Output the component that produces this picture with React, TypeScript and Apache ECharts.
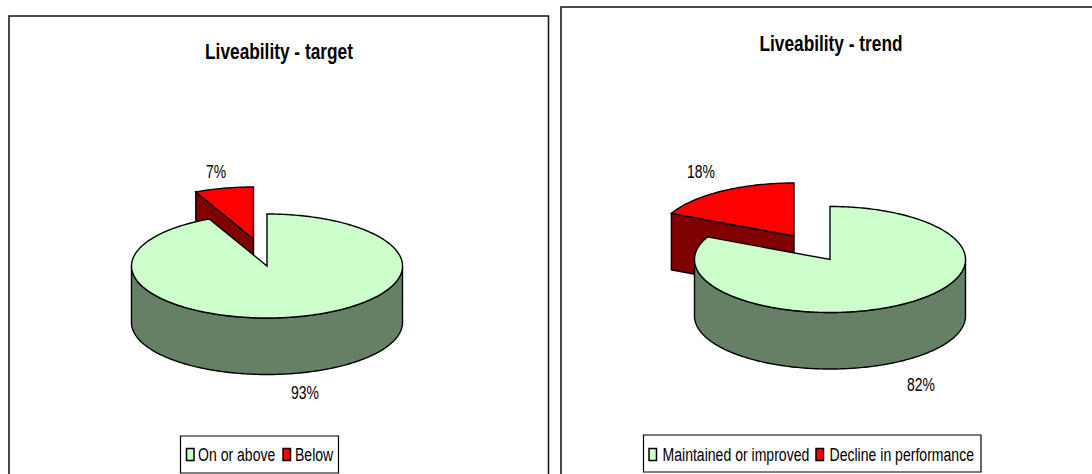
import React, { useEffect, useRef } from "react";
import * as echarts from "echarts";

// Share of indicators per category, in percent.
const targetCategories = ["On or above", "Below"];
const targetValues = [93, 7];
const trendCategories = ["Maintained or improved", "Decline in performance"];
const trendValues = [82, 18];

const FONT = "Liberation Sans";
const topColors = ["#CCFFCC", "#FF0000"];
const wallColors = ["#668066", "#800000"];
const OUTLINE = "#000000";
const EDGE = 1.4;

type Pie = {
  cx: number;
  cy: number;
  rx: number;
  ry: number;
  depth: number;
  pull: [number, number];
  labels: [number, number][];
};

const targetPie: Pie = {
  cx: 267, cy: 266, rx: 135.5, ry: 52, depth: 56.5,
  pull: [-13.5, -27],
  labels: [[305, 392], [216, 171]],
};
const trendPie: Pie = {
  cx: 830, cy: 259.5, rx: 135.5, ry: 53, depth: 56.5,
  pull: [-36, -23.5],
  labels: [[921, 384], [701, 171]],
};

// Point on the pie's rim; degrees run clockwise from twelve o'clock.
function rim(p: Pie, deg: number, ox: number, oy: number): number[] {
  const a = (deg * Math.PI) / 180;
  return [p.cx + ox + p.rx * Math.sin(a), p.cy + oy - p.ry * Math.cos(a)];
}

function arcPoints(p: Pie, from: number, to: number, ox: number, oy: number) {
  const pts: number[][] = [];
  const steps = Math.max(2, Math.ceil(Math.abs(to - from)));
  for (let i = 0; i <= steps; i++) pts.push(rim(p, from + ((to - from) * i) / steps, ox, oy));
  return pts;
}

// One slice: the outer wall and cut face that show from above, then the top.
function sliceRenderer(p: Pie, values: number[], index: number) {
  const total = values.reduce((s, v) => s + v, 0);
  const start = (values.slice(0, index).reduce((s, v) => s + v, 0) / total) * 360;
  const end = start + (values[index] / total) * 360;
  const [ox, oy] = index === 0 ? [0, 0] : p.pull;
  const apex = [p.cx + ox, p.cy + oy];
  const drop = (pts: number[][]) => pts.map(([x, y]) => [x, y + p.depth]);
  const line = { fill: wallColors[index], stroke: OUTLINE, lineWidth: EDGE };

  return () => {
    const children: any[] = [];
    // Cut face on the closing edge looks towards the viewer for the pulled slice.
    if (index === 1) {
      const edge = rim(p, start, ox, oy);
      children.push({
        type: "polygon",
        shape: { points: [edge, apex, [apex[0], apex[1] + p.depth], [edge[0], edge[1] + p.depth]] },
        style: line,
      });
    }
    // Outer wall only on the near half of the rim (90° to 270°).
    const wallFrom = Math.max(start, 90);
    const wallTo = Math.min(end, 270);
    if (wallTo > wallFrom) {
      const arc = arcPoints(p, wallFrom, wallTo, ox, oy);
      children.push({
        type: "polygon",
        shape: { points: [...arc, ...drop(arc).reverse()] },
        style: line,
      });
    }
    children.push({
      type: "polygon",
      shape: { points: [apex, ...arcPoints(p, start, end, ox, oy)] },
      style: { fill: topColors[index], stroke: OUTLINE, lineWidth: EDGE },
    });
    return { type: "group", children };
  };
}

function sliceSeries(p: Pie, names: string[], values: number[]) {
  // The pulled slice goes first so the main body overlaps it.
  return [1, 0].map((i) => ({
    type: "custom" as const,
    name: names[i],
    coordinateSystem: "none",
    silent: true,
    data: [values[i]],
    itemStyle: { color: topColors[i], borderColor: OUTLINE, borderWidth: 1.5 },
    renderItem: sliceRenderer(p, values, i),
  }));
}

// Condensed text: Arial-like glyphs squeezed horizontally about their anchor.
function squeezedText(
  text: string,
  x: number,
  y: number,
  size: number,
  align: "left" | "center",
  squeeze: number,
  weight = "normal",
) {
  return {
    type: "text" as const,
    x,
    y,
    scaleX: squeeze,
    silent: true,
    z: 5,
    style: {
      text,
      fill: "#000",
      font: `${weight} ${size}px "${FONT}"`,
      align,
      verticalAlign: "middle",
    },
  };
}

function valueLabels(p: Pie, values: number[]) {
  return values.map((v, i) =>
    squeezedText(`${v}%`, p.labels[i][0], p.labels[i][1], 18, "center", 0.775),
  );
}

function frame(x: number, y: number, width: number, height: number) {
  return {
    type: "rect" as const,
    z: -10,
    silent: true,
    shape: { x, y, width, height },
    style: { fill: "#fff", stroke: "#111", lineWidth: 1.5 },
  };
}

// Boxed legend: a swatch and a name per category at the given x positions.
function legendGroup(
  names: string[],
  box: [number, number, number, number],
  swatchX: number[],
  textX: number[],
  midY: number,
) {
  const [left, top, width, height] = box;
  const items: any[] = [
    {
      type: "rect",
      z: -5,
      silent: true,
      shape: { x: left, y: top, width, height },
      style: { fill: "#fff", stroke: "#000", lineWidth: 1.2 },
    },
  ];
  names.forEach((name, i) => {
    items.push({
      type: "rect",
      z: 5,
      silent: true,
      shape: { x: swatchX[i], y: midY - 6, width: 7.5, height: 12 },
      style: { fill: topColors[i], stroke: "#000", lineWidth: 1.5 },
    });
    items.push(squeezedText(name, textX[i], midY, 19, "left", 0.74));
  });
  return items;
}

export default function App() {
  const ref = useRef<HTMLDivElement>(null);

  useEffect(() => {
    const chart = echarts.init(ref.current!, null, { renderer: "svg" });
    chart.setOption({
      animation: false,
      backgroundColor: "#fff",
      series: [
        ...sliceSeries(targetPie, targetCategories, targetValues),
        ...sliceSeries(trendPie, trendCategories, trendValues),
      ],
      graphic: [
        frame(9, 16, 539.5, 480),
        frame(561, 7, 560, 490),
        squeezedText("Liveability - target", 279, 51, 23, "center", 0.752, "bold"),
        squeezedText("Liveability - trend", 831, 43, 23, "center", 0.752, "bold"),
        ...legendGroup(targetCategories, [180.5, 436, 158, 37], [186.5, 283], [198, 295], 454.5),
        ...legendGroup(trendCategories, [643.5, 435, 337.5, 37], [649, 816], [662.5, 829.5], 454.5),
        ...valueLabels(targetPie, targetValues),
        ...valueLabels(trendPie, trendValues),
      ],
    });
    return () => chart.dispose();
  }, []);

  return <div ref={ref} style={{ position: "fixed", left: 0, top: 0, width: 1092, height: 474 }} />;
}
